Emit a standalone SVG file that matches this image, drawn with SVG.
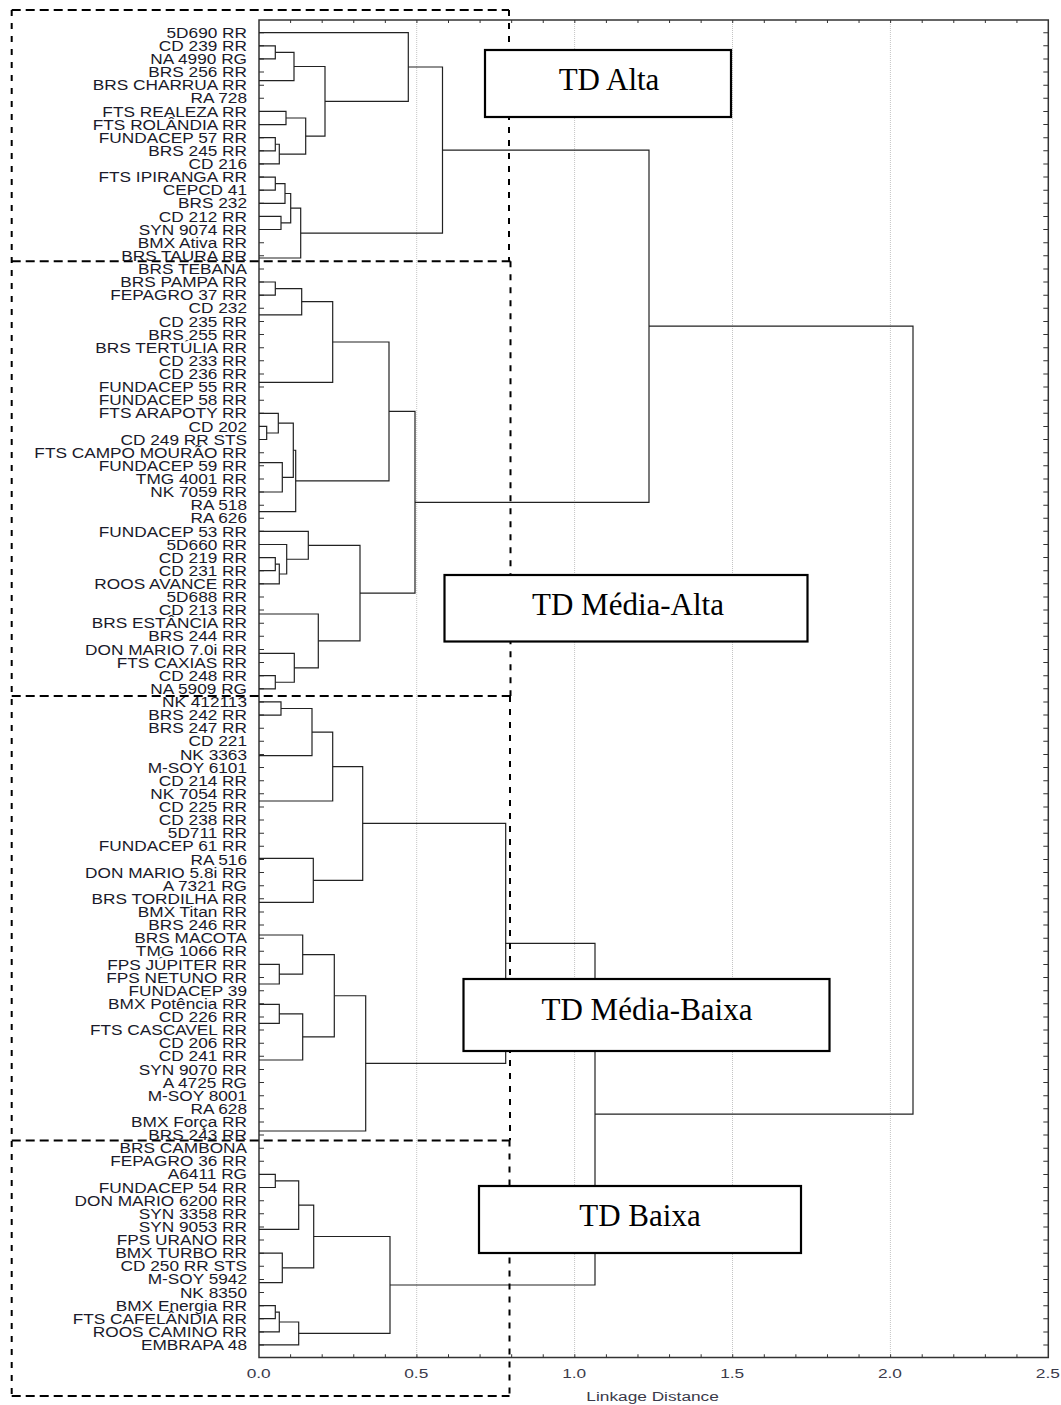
<svg xmlns="http://www.w3.org/2000/svg" width="1061" height="1405" viewBox="0 0 1061 1405">
<style>
.lbl{font-family:"Liberation Sans",Arial,sans-serif;font-size:15px;fill:#1a1a2a;text-anchor:end}
.ax{font-family:"Liberation Sans",Arial,sans-serif;font-size:13.3px;fill:#3a3a4a;text-anchor:middle}
.box rect{fill:#fff;stroke:#000;stroke-width:2.2}
.box text{font-family:"Liberation Serif","Times New Roman",serif;font-size:31px;fill:#000;text-anchor:middle}
.grid{stroke:#c4c4c4;stroke-width:1;stroke-dasharray:1 1}
.frame{fill:none;stroke:#333;stroke-width:1.5}
.tick{stroke:#333;fill:none}
.link{fill:none;stroke:#222;stroke-width:1.2}
.dh{stroke:#000;stroke-width:2;stroke-dasharray:9 5}
.dv{stroke:#000;stroke-width:2;stroke-dasharray:6 7}
</style>
<rect width="1061" height="1405" fill="#fff"/>
<g id="grid">
<line class="grid" x1="416.7" y1="20" x2="416.7" y2="1357.5"/>
<line class="grid" x1="574.6" y1="20" x2="574.6" y2="1357.5"/>
<line class="grid" x1="732.5" y1="20" x2="732.5" y2="1357.5"/>
<line class="grid" x1="890.4" y1="20" x2="890.4" y2="1357.5"/>
</g>
<g id="axes">
<rect class="frame" x="259" y="20" width="789.3" height="1337.5"/>
<line class="tick" x1="261.5" y1="32.2" x2="261.5" y2="1346" stroke-width="5" stroke-dasharray="1 12.123"/>
<line class="tick" x1="1045.8" y1="32.2" x2="1045.8" y2="1346" stroke-width="5" stroke-dasharray="1 12.123"/>
<line class="tick" x1="290.1" y1="1355.8" x2="1048" y2="1355.8" stroke-width="3" stroke-dasharray="1 30.58"/>
<line class="tick" x1="290.1" y1="21.5" x2="1048" y2="21.5" stroke-width="3" stroke-dasharray="1 30.58"/>
<text class="ax" x="199" y="1378.3" transform="scale(1.3,1)">0.0</text>
<text class="ax" x="320.2" y="1378.3" transform="scale(1.3,1)">0.5</text>
<text class="ax" x="441.7" y="1378.3" transform="scale(1.3,1)">1.0</text>
<text class="ax" x="563.2" y="1378.3" transform="scale(1.3,1)">1.5</text>
<text class="ax" x="684.6" y="1378.3" transform="scale(1.3,1)">2.0</text>
<text class="ax" x="806" y="1378.3" transform="scale(1.3,1)">2.5</text>
<text class="ax" x="502" y="1401" transform="scale(1.3,1)">Linkage Distance</text>
</g>
<g id="connectors">
<path class="link" d="M259 45.8H275.3V58.9H259"/>
<path class="link" d="M275.3 52.35H294V80.7H259"/>
<path class="link" d="M259 111.4H286V124.6H259"/>
<path class="link" d="M259 137.7H275.3V150.8H259"/>
<path class="link" d="M275.3 144.25H279.3V163.9H259"/>
<path class="link" d="M286 118H305.7V154.1H279.3"/>
<path class="link" d="M294 66.5H325V136.05H305.7"/>
<path class="link" d="M259 32.7H408.3V101.3H325"/>
<path class="link" d="M259 177.1H275.3V190.2H259"/>
<path class="link" d="M275.3 183.65H285V203.3H259"/>
<path class="link" d="M259 216.4H281V229.5H259"/>
<path class="link" d="M285 193.5H290.7V222.95H281"/>
<path class="link" d="M290.7 208.2H300.7V258H259"/>
<path class="link" d="M408.3 67H442.5V233.1H300.7"/>
<path class="link" d="M259 282H275.3V295.2H259"/>
<path class="link" d="M275.3 288.6H301.7V314.8H259"/>
<path class="link" d="M301.7 301.7H332.7V382.3H259"/>
<path class="link" d="M259 426.4H266.7V439.5H259"/>
<path class="link" d="M259 413.3H278.3V433H266.7"/>
<path class="link" d="M259 462.7H282.3V492H259"/>
<path class="link" d="M278.3 423.15H293.3V477.35H282.3"/>
<path class="link" d="M293.3 450.25H295.7V511.6H259"/>
<path class="link" d="M332.7 342H389V480.9H295.7"/>
<path class="link" d="M259 557.6H275.3V570.7H259"/>
<path class="link" d="M275.3 564.15H279.3V583.8H259"/>
<path class="link" d="M259 544.5H286.7V574H279.3"/>
<path class="link" d="M259 531.4H308.3V559.25H286.7"/>
<path class="link" d="M259 675.7H275.3V688.8H259"/>
<path class="link" d="M259 653.3H294.3V682.25H275.3"/>
<path class="link" d="M259 614H318.3V667.8H294.3"/>
<path class="link" d="M308.3 545.3H360V640.9H318.3"/>
<path class="link" d="M389 411.45H415V593.1H360"/>
<path class="link" d="M442.5 150.05H649V502.3H415"/>
<path class="link" d="M259 701.9H281V715.1H259"/>
<path class="link" d="M281 708.5H312V755.7H259"/>
<path class="link" d="M312 732.1H332.7V801H259"/>
<path class="link" d="M259 858.3H313.3V902.3H259"/>
<path class="link" d="M332.7 766.55H362.7V880.3H313.3"/>
<path class="link" d="M259 964.4H279.3V984H259"/>
<path class="link" d="M259 935H302.7V974.2H279.3"/>
<path class="link" d="M259 1004.3H279.3V1023.4H259"/>
<path class="link" d="M279.3 1013.85H302.7V1060H259"/>
<path class="link" d="M302.7 954.6H334.3V1036.9H302.7"/>
<path class="link" d="M334.3 995.75H365.7V1131H259"/>
<path class="link" d="M362.7 823.4H505.7V1063.4H365.7"/>
<path class="link" d="M259 1174.3H275.3V1187.5H259"/>
<path class="link" d="M275.3 1180.9H298.7V1229.3H259"/>
<path class="link" d="M259 1253.1H282.3V1282.7H259"/>
<path class="link" d="M298.7 1205.1H313.7V1267.9H282.3"/>
<path class="link" d="M259 1305.6H275.3V1318.7H259"/>
<path class="link" d="M275.3 1312.15H279.3V1331.8H259"/>
<path class="link" d="M279.3 1322H298.7V1344.9H259"/>
<path class="link" d="M313.7 1236.5H390V1333.45H298.7"/>
<path class="link" d="M505.7 943.4H595V1285H390"/>
<path class="link" d="M649 326.2H913V1114.2H595"/>
</g>
<g id="groups-outline">
<line class="dh" x1="11.7" y1="10" x2="509" y2="10"/>
<line class="dv" x1="509" y1="10" x2="509" y2="261"/>
<line class="dh" x1="11.7" y1="261.3" x2="510.5" y2="261.3"/>
<line class="dv" x1="510.5" y1="261.3" x2="510.5" y2="696"/>
<line class="dh" x1="11.7" y1="696" x2="510.5" y2="696"/>
<line class="dv" x1="510" y1="696" x2="510" y2="1140.5"/>
<line class="dh" x1="11.7" y1="1140.5" x2="510" y2="1140.5"/>
<line class="dv" x1="509.5" y1="1140.5" x2="509.5" y2="1396"/>
<line class="dh" x1="11.7" y1="1396" x2="509.5" y2="1396"/>
<line class="dv" x1="11.7" y1="10" x2="11.7" y2="1396"/>
</g>
<g id="leaves">
<g id="leaf-1"><text class="lbl" x="214.8" y="37.9" transform="scale(1.15,1)">5D690 RR</text></g>
<g id="leaf-2"><text class="lbl" x="214.8" y="51" transform="scale(1.15,1)">CD 239 RR</text></g>
<g id="leaf-3"><text class="lbl" x="214.8" y="64.1" transform="scale(1.15,1)">NA 4990 RG</text></g>
<g id="leaf-4"><text class="lbl" x="214.8" y="77.3" transform="scale(1.15,1)">BRS 256 RR</text></g>
<g id="leaf-5"><text class="lbl" x="214.8" y="90.4" transform="scale(1.15,1)">BRS CHARRUA RR</text></g>
<g id="leaf-6"><text class="lbl" x="214.8" y="103.5" transform="scale(1.15,1)">RA 728</text></g>
<g id="leaf-7"><text class="lbl" x="214.8" y="116.6" transform="scale(1.15,1)">FTS REALEZA RR</text></g>
<g id="leaf-8"><text class="lbl" x="214.8" y="129.8" transform="scale(1.15,1)">FTS ROLÂNDIA RR</text></g>
<g id="leaf-9"><text class="lbl" x="214.8" y="142.9" transform="scale(1.15,1)">FUNDACEP 57 RR</text></g>
<g id="leaf-10"><text class="lbl" x="214.8" y="156" transform="scale(1.15,1)">BRS 245 RR</text></g>
<g id="leaf-11"><text class="lbl" x="214.8" y="169.1" transform="scale(1.15,1)">CD 216</text></g>
<g id="leaf-12"><text class="lbl" x="214.8" y="182.3" transform="scale(1.15,1)">FTS IPIRANGA RR</text></g>
<g id="leaf-13"><text class="lbl" x="214.8" y="195.4" transform="scale(1.15,1)">CEPCD 41</text></g>
<g id="leaf-14"><text class="lbl" x="214.8" y="208.5" transform="scale(1.15,1)">BRS 232</text></g>
<g id="leaf-15"><text class="lbl" x="214.8" y="221.6" transform="scale(1.15,1)">CD 212 RR</text></g>
<g id="leaf-16"><text class="lbl" x="214.8" y="234.7" transform="scale(1.15,1)">SYN 9074 RR</text></g>
<g id="leaf-17"><text class="lbl" x="214.8" y="247.9" transform="scale(1.15,1)">BMX Ativa RR</text></g>
<g id="leaf-18"><text class="lbl" x="214.8" y="261" transform="scale(1.15,1)">BRS TAURA RR</text></g>
<g id="leaf-19"><text class="lbl" x="214.8" y="274.1" transform="scale(1.15,1)">BRS TEBANA</text></g>
<g id="leaf-20"><text class="lbl" x="214.8" y="287.2" transform="scale(1.15,1)">BRS PAMPA RR</text></g>
<g id="leaf-21"><text class="lbl" x="214.8" y="300.4" transform="scale(1.15,1)">FEPAGRO 37 RR</text></g>
<g id="leaf-22"><text class="lbl" x="214.8" y="313.5" transform="scale(1.15,1)">CD 232</text></g>
<g id="leaf-23"><text class="lbl" x="214.8" y="326.6" transform="scale(1.15,1)">CD 235 RR</text></g>
<g id="leaf-24"><text class="lbl" x="214.8" y="339.7" transform="scale(1.15,1)">BRS 255 RR</text></g>
<g id="leaf-25"><text class="lbl" x="214.8" y="352.8" transform="scale(1.15,1)">BRS TERTÚLIA RR</text></g>
<g id="leaf-26"><text class="lbl" x="214.8" y="366" transform="scale(1.15,1)">CD 233 RR</text></g>
<g id="leaf-27"><text class="lbl" x="214.8" y="379.1" transform="scale(1.15,1)">CD 236 RR</text></g>
<g id="leaf-28"><text class="lbl" x="214.8" y="392.2" transform="scale(1.15,1)">FUNDACEP 55 RR</text></g>
<g id="leaf-29"><text class="lbl" x="214.8" y="405.3" transform="scale(1.15,1)">FUNDACEP 58 RR</text></g>
<g id="leaf-30"><text class="lbl" x="214.8" y="418.5" transform="scale(1.15,1)">FTS ARAPOTY RR</text></g>
<g id="leaf-31"><text class="lbl" x="214.8" y="431.6" transform="scale(1.15,1)">CD 202</text></g>
<g id="leaf-32"><text class="lbl" x="214.8" y="444.7" transform="scale(1.15,1)">CD 249 RR STS</text></g>
<g id="leaf-33"><text class="lbl" x="214.8" y="457.8" transform="scale(1.15,1)">FTS CAMPO MOURÃO RR</text></g>
<g id="leaf-34"><text class="lbl" x="214.8" y="470.9" transform="scale(1.15,1)">FUNDACEP 59 RR</text></g>
<g id="leaf-35"><text class="lbl" x="214.8" y="484.1" transform="scale(1.15,1)">TMG 4001 RR</text></g>
<g id="leaf-36"><text class="lbl" x="214.8" y="497.2" transform="scale(1.15,1)">NK 7059 RR</text></g>
<g id="leaf-37"><text class="lbl" x="214.8" y="510.3" transform="scale(1.15,1)">RA 518</text></g>
<g id="leaf-38"><text class="lbl" x="214.8" y="523.4" transform="scale(1.15,1)">RA 626</text></g>
<g id="leaf-39"><text class="lbl" x="214.8" y="536.6" transform="scale(1.15,1)">FUNDACEP 53 RR</text></g>
<g id="leaf-40"><text class="lbl" x="214.8" y="549.7" transform="scale(1.15,1)">5D660 RR</text></g>
<g id="leaf-41"><text class="lbl" x="214.8" y="562.8" transform="scale(1.15,1)">CD 219 RR</text></g>
<g id="leaf-42"><text class="lbl" x="214.8" y="575.9" transform="scale(1.15,1)">CD 231 RR</text></g>
<g id="leaf-43"><text class="lbl" x="214.8" y="589" transform="scale(1.15,1)">ROOS AVANCE RR</text></g>
<g id="leaf-44"><text class="lbl" x="214.8" y="602.2" transform="scale(1.15,1)">5D688 RR</text></g>
<g id="leaf-45"><text class="lbl" x="214.8" y="615.3" transform="scale(1.15,1)">CD 213 RR</text></g>
<g id="leaf-46"><text class="lbl" x="214.8" y="628.4" transform="scale(1.15,1)">BRS ESTÂNCIA RR</text></g>
<g id="leaf-47"><text class="lbl" x="214.8" y="641.5" transform="scale(1.15,1)">BRS 244 RR</text></g>
<g id="leaf-48"><text class="lbl" x="214.8" y="654.7" transform="scale(1.15,1)">DON MARIO 7.0i RR</text></g>
<g id="leaf-49"><text class="lbl" x="214.8" y="667.8" transform="scale(1.15,1)">FTS CAXIAS RR</text></g>
<g id="leaf-50"><text class="lbl" x="214.8" y="680.9" transform="scale(1.15,1)">CD 248 RR</text></g>
<g id="leaf-51"><text class="lbl" x="214.8" y="694" transform="scale(1.15,1)">NA 5909 RG</text></g>
<g id="leaf-52"><text class="lbl" x="214.8" y="707.1" transform="scale(1.15,1)">NK 412113</text></g>
<g id="leaf-53"><text class="lbl" x="214.8" y="720.3" transform="scale(1.15,1)">BRS 242 RR</text></g>
<g id="leaf-54"><text class="lbl" x="214.8" y="733.4" transform="scale(1.15,1)">BRS 247 RR</text></g>
<g id="leaf-55"><text class="lbl" x="214.8" y="746.5" transform="scale(1.15,1)">CD 221</text></g>
<g id="leaf-56"><text class="lbl" x="214.8" y="759.6" transform="scale(1.15,1)">NK 3363</text></g>
<g id="leaf-57"><text class="lbl" x="214.8" y="772.8" transform="scale(1.15,1)">M-SOY 6101</text></g>
<g id="leaf-58"><text class="lbl" x="214.8" y="785.9" transform="scale(1.15,1)">CD 214 RR</text></g>
<g id="leaf-59"><text class="lbl" x="214.8" y="799" transform="scale(1.15,1)">NK 7054 RR</text></g>
<g id="leaf-60"><text class="lbl" x="214.8" y="812.1" transform="scale(1.15,1)">CD 225 RR</text></g>
<g id="leaf-61"><text class="lbl" x="214.8" y="825.2" transform="scale(1.15,1)">CD 238 RR</text></g>
<g id="leaf-62"><text class="lbl" x="214.8" y="838.4" transform="scale(1.15,1)">5D711 RR</text></g>
<g id="leaf-63"><text class="lbl" x="214.8" y="851.5" transform="scale(1.15,1)">FUNDACEP 61 RR</text></g>
<g id="leaf-64"><text class="lbl" x="214.8" y="864.6" transform="scale(1.15,1)">RA 516</text></g>
<g id="leaf-65"><text class="lbl" x="214.8" y="877.7" transform="scale(1.15,1)">DON MARIO 5.8i RR</text></g>
<g id="leaf-66"><text class="lbl" x="214.8" y="890.9" transform="scale(1.15,1)">A 7321 RG</text></g>
<g id="leaf-67"><text class="lbl" x="214.8" y="904" transform="scale(1.15,1)">BRS TORDILHA RR</text></g>
<g id="leaf-68"><text class="lbl" x="214.8" y="917.1" transform="scale(1.15,1)">BMX Titan RR</text></g>
<g id="leaf-69"><text class="lbl" x="214.8" y="930.2" transform="scale(1.15,1)">BRS 246 RR</text></g>
<g id="leaf-70"><text class="lbl" x="214.8" y="943.3" transform="scale(1.15,1)">BRS MACOTA</text></g>
<g id="leaf-71"><text class="lbl" x="214.8" y="956.5" transform="scale(1.15,1)">TMG 1066 RR</text></g>
<g id="leaf-72"><text class="lbl" x="214.8" y="969.6" transform="scale(1.15,1)">FPS JÚPITER RR</text></g>
<g id="leaf-73"><text class="lbl" x="214.8" y="982.7" transform="scale(1.15,1)">FPS NETUNO RR</text></g>
<g id="leaf-74"><text class="lbl" x="214.8" y="995.8" transform="scale(1.15,1)">FUNDACEP 39</text></g>
<g id="leaf-75"><text class="lbl" x="214.8" y="1009" transform="scale(1.15,1)">BMX Potência RR</text></g>
<g id="leaf-76"><text class="lbl" x="214.8" y="1022.1" transform="scale(1.15,1)">CD 226 RR</text></g>
<g id="leaf-77"><text class="lbl" x="214.8" y="1035.2" transform="scale(1.15,1)">FTS CASCAVEL RR</text></g>
<g id="leaf-78"><text class="lbl" x="214.8" y="1048.3" transform="scale(1.15,1)">CD 206 RR</text></g>
<g id="leaf-79"><text class="lbl" x="214.8" y="1061.4" transform="scale(1.15,1)">CD 241 RR</text></g>
<g id="leaf-80"><text class="lbl" x="214.8" y="1074.6" transform="scale(1.15,1)">SYN 9070 RR</text></g>
<g id="leaf-81"><text class="lbl" x="214.8" y="1087.7" transform="scale(1.15,1)">A 4725 RG</text></g>
<g id="leaf-82"><text class="lbl" x="214.8" y="1100.8" transform="scale(1.15,1)">M-SOY 8001</text></g>
<g id="leaf-83"><text class="lbl" x="214.8" y="1113.9" transform="scale(1.15,1)">RA 628</text></g>
<g id="leaf-84"><text class="lbl" x="214.8" y="1127.1" transform="scale(1.15,1)">BMX Força RR</text></g>
<g id="leaf-85"><text class="lbl" x="214.8" y="1140.2" transform="scale(1.15,1)">BRS 243 RR</text></g>
<g id="leaf-86"><text class="lbl" x="214.8" y="1153.3" transform="scale(1.15,1)">BRS CAMBONA</text></g>
<g id="leaf-87"><text class="lbl" x="214.8" y="1166.4" transform="scale(1.15,1)">FEPAGRO 36 RR</text></g>
<g id="leaf-88"><text class="lbl" x="214.8" y="1179.5" transform="scale(1.15,1)">A6411 RG</text></g>
<g id="leaf-89"><text class="lbl" x="214.8" y="1192.7" transform="scale(1.15,1)">FUNDACEP 54 RR</text></g>
<g id="leaf-90"><text class="lbl" x="214.8" y="1205.8" transform="scale(1.15,1)">DON MARIO 6200 RR</text></g>
<g id="leaf-91"><text class="lbl" x="214.8" y="1218.9" transform="scale(1.15,1)">SYN 3358 RR</text></g>
<g id="leaf-92"><text class="lbl" x="214.8" y="1232" transform="scale(1.15,1)">SYN 9053 RR</text></g>
<g id="leaf-93"><text class="lbl" x="214.8" y="1245.2" transform="scale(1.15,1)">FPS URANO RR</text></g>
<g id="leaf-94"><text class="lbl" x="214.8" y="1258.3" transform="scale(1.15,1)">BMX TURBO RR</text></g>
<g id="leaf-95"><text class="lbl" x="214.8" y="1271.4" transform="scale(1.15,1)">CD 250 RR STS</text></g>
<g id="leaf-96"><text class="lbl" x="214.8" y="1284.5" transform="scale(1.15,1)">M-SOY 5942</text></g>
<g id="leaf-97"><text class="lbl" x="214.8" y="1297.6" transform="scale(1.15,1)">NK 8350</text></g>
<g id="leaf-98"><text class="lbl" x="214.8" y="1310.8" transform="scale(1.15,1)">BMX Energia RR</text></g>
<g id="leaf-99"><text class="lbl" x="214.8" y="1323.9" transform="scale(1.15,1)">FTS CAFELÂNDIA RR</text></g>
<g id="leaf-100"><text class="lbl" x="214.8" y="1337" transform="scale(1.15,1)">ROOS CAMINO RR</text></g>
<g id="leaf-101"><text class="lbl" x="214.8" y="1350.1" transform="scale(1.15,1)">EMBRAPA 48</text></g>
</g>
<g id="td-alta" class="box"><rect x="485" y="50" width="246" height="67"/><text x="609" y="90">TD Alta</text></g>
<g id="td-media-alta" class="box"><rect x="444.5" y="575" width="363" height="66.5"/><text x="628" y="615">TD Média-Alta</text></g>
<g id="td-media-baixa" class="box"><rect x="463.5" y="979" width="366" height="72"/><text x="647" y="1019.5">TD Média-Baixa</text></g>
<g id="td-baixa" class="box"><rect x="479" y="1186" width="322" height="67"/><text x="640" y="1225.7">TD Baixa</text></g>
</svg>
